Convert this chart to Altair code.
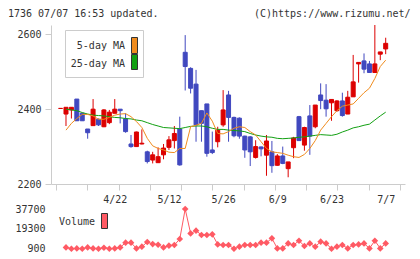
import altair as alt
import numpy as np
import pandas as pd

# Daily candles (oldest first)
OPEN = [2402, 2387, 2398, 2427, 2389, 2347, 2356, 2373, 2353, 2364,
        2389, 2400, 2374, 2307, 2300, 2307, 2286, 2264, 2257, 2278,
        2298, 2316, 2347, 2552, 2509, 2467, 2396, 2414, 2291, 2313,
        2358, 2438, 2378, 2376, 2328, 2326, 2271, 2299, 2277, 2286,
        2250, 2275, 2241, 2297, 2380, 2304, 2382, 2353, 2438, 2424,
        2417, 2396, 2422, 2387, 2433, 2521, 2529, 2521, 2498, 2547,
        2561]
HIGH = [2402, 2405, 2405, 2427, 2390, 2347, 2427, 2375, 2400, 2398,
        2427, 2400, 2389, 2331, 2340, 2346, 2289, 2286, 2298, 2307,
        2328, 2355, 2380, 2598, 2512, 2505, 2396, 2414, 2340, 2353,
        2451, 2449, 2380, 2378, 2329, 2328, 2317, 2300, 2331, 2315,
        2280, 2300, 2259, 2326, 2382, 2353, 2411, 2411, 2469, 2467,
        2426, 2424, 2444, 2449, 2545, 2525, 2549, 2529, 2625, 2553,
        2591]
LOW = [2402, 2355, 2375, 2369, 2369, 2321, 2356, 2355, 2352, 2360,
       2389, 2362, 2337, 2297, 2300, 2306, 2255, 2255, 2257, 2266,
       2291, 2295, 2249, 2450, 2442, 2313, 2313, 2273, 2280, 2298,
       2353, 2313, 2325, 2321, 2270, 2248, 2268, 2274, 2222, 2230,
       2249, 2253, 2218, 2269, 2316, 2289, 2278, 2349, 2400, 2380,
       2369, 2393, 2380, 2387, 2433, 2471, 2496, 2498, 2498, 2531,
       2547]
CLOSE = [2402, 2405, 2405, 2369, 2369, 2337, 2400, 2358, 2398, 2392,
         2400, 2396, 2340, 2300, 2339, 2309, 2260, 2278, 2273, 2296,
         2318, 2335, 2251, 2514, 2456, 2358, 2362, 2282, 2284, 2344,
         2398, 2378, 2329, 2328, 2291, 2286, 2300, 2294, 2315, 2249,
         2275, 2255, 2259, 2323, 2316, 2351, 2328, 2411, 2423, 2401,
         2426, 2422, 2383, 2432, 2473, 2525, 2507, 2498, 2521, 2553,
         2576]

# 5-day and 25-day moving averages
MA5 = [None, 2344, 2362, 2375, 2386, 2386, 2382, 2373, 2373, 2378,
       2384, 2387, 2388, 2380, 2367, 2351, 2322, 2302, 2295, 2291,
       2285, 2284, 2295, 2295, 2353, 2357, 2362, 2390, 2368, 2335,
       2334, 2340, 2349, 2353, 2351, 2340, 2331, 2313, 2295, 2286,
       2284, 2282, 2277, 2273, 2271, 2279, 2295, 2316, 2344, 2362,
       2380, 2396, 2408, 2411, 2414, 2429, 2444, 2456, 2482, 2514,
       2531]
MA25 = [None, 2400, 2398, 2396, 2391, 2387, 2384, 2383, 2382, 2380,
        2378, 2377, 2375, 2374, 2371, 2369, 2364, 2359, 2355, 2351,
        2350, 2349, 2348, 2351, 2354, 2355, 2355, 2353, 2349, 2346,
        2346, 2344, 2343, 2342, 2340, 2335, 2331, 2328, 2326, 2325,
        2322, 2321, 2322, 2323, 2325, 2326, 2328, 2330, 2332, 2331,
        2330, 2333, 2339, 2344, 2350, 2353, 2357, 2360, 2371, 2382,
        2392]

VOLUME = [None, 2100, 900, 1200, 900, 2100, 1200, 900, 1800, 900,
          1200, 2100, 6500, 6500, 1200, 2800, 7100, 5200, 4600, 2100,
          3700, 4300, 9900, 37700, 15100, 17600, 13600, 13600, 14200, 4900,
          4300, 4300, 900, 2800, 4300, 4300, 4300, 6500, 6500, 10500,
          1200, 1200, 5800, 4300, 8300, 3400, 5800, 2800, 7400, 5800,
          900, 2800, 4300, 1200, 4300, 4900, 5800, 1200, 8300, 1200,
          5800]

DATE_POS = [10, 20, 30, 40, 50, 60]
DATE_TEXT = ["4/22", "5/12", "5/26", "6/9", "6/23", "7/7"]
PRICE_TICKS = [2200, 2400, 2600]
VOLUME_TICKS = [900, 19300, 37700]

TITLE = "1736 07/07 16:53 updated."
CREDIT = "(C)https://www.rizumu.net/"

RED = "#dc0000"
BLUE = "#4048bf"
ORANGE = "#f08c1e"
GREEN = "#12a012"
PINK = "#ff5a64"
GRID = "#cccccc"
TEXT = "#333333"
FONT = "DejaVu Sans Mono"

W, H = 354, 159

df = pd.DataFrame({
    "i": np.arange(len(CLOSE)),
    "open": OPEN, "high": HIGH, "low": LOW, "close": CLOSE,
    "ma5": MA5, "ma25": MA25, "vol": VOLUME,
})
df["dir"] = np.where(df["close"] >= df["open"], "up", "down")

X_LO, X_HI = -0.843, 62.64
x_ticks = [X_LO + k * (X_HI - X_LO) / 11 for k in range(12)]


def xs():
    return alt.Scale(domain=[X_LO, X_HI], nice=False, zero=False)


def ps():
    return alt.Scale(domain=[2200, 2625], nice=False, zero=False)


def vs():
    return alt.Scale(domain=[900, 37700], range=[223.7, 184], nice=False, zero=False)


dir_scale = alt.Scale(domain=["up", "down"], range=[RED, BLUE])

label_expr = "[" + ",".join(f"'{t}'" for t in DATE_TEXT) + "][indexof([" + \
    ",".join(str(p) for p in DATE_POS) + "], datum.value)]"

base = alt.Chart(df)

wicks = base.mark_rule(strokeWidth=1).encode(
    x=alt.X("i:Q", scale=xs(), axis=alt.Axis(
        values=x_ticks, labels=False, tickSize=6, tickColor=GRID,
        domainColor=GRID, grid=False, title=None, orient="bottom")),
    y=alt.Y("low:Q", scale=ps(), axis=alt.Axis(
        values=PRICE_TICKS, format="d", tickSize=6, tickColor=GRID,
        domainColor=GRID, grid=False, title=None, labelPadding=4,
        orient="left")),
    y2="high:Q",
    color=alt.Color("dir:N", scale=dir_scale, legend=None),
)

bodies = base.mark_bar(size=4, strokeWidth=1, orient="vertical").encode(
    x=alt.X("i:Q", scale=xs(), axis=alt.Axis(
        values=DATE_POS, labelExpr=label_expr, ticks=False, tickSize=0,
        domain=False, grid=False, title=None, labelPadding=10,
        orient="bottom")),
    y=alt.Y("open:Q", scale=ps(), axis=None),
    y2="close:Q",
    color=alt.Color("dir:N", scale=dir_scale, legend=None),
    stroke=alt.Stroke("dir:N", scale=dir_scale, legend=None),
)

ma25 = base.mark_line(color=GREEN, strokeWidth=1).encode(
    x=alt.X("i:Q", scale=xs(), axis=None),
    y=alt.Y("ma25:Q", scale=ps(), axis=None),
)
ma5 = base.mark_line(color=ORANGE, strokeWidth=1).encode(
    x=alt.X("i:Q", scale=xs(), axis=None),
    y=alt.Y("ma5:Q", scale=ps(), axis=None),
)

vol_line = base.mark_line(color=PINK, strokeWidth=1).encode(
    x=alt.X("i:Q", scale=xs(), axis=None),
    y=alt.Y("vol:Q", scale=vs(), axis=alt.Axis(
        values=VOLUME_TICKS, format="d", domain=False, ticks=False,
        tickSize=0, grid=False, title=None, labelPadding=6, orient="left")),
)
vol_pts = base.mark_point(shape="diamond", filled=True, size=44, opacity=1,
                          color=PINK).encode(
    x=alt.X("i:Q", scale=xs(), axis=None),
    y=alt.Y("vol:Q", scale=vs(), axis=None),
)

one = alt.Chart(pd.DataFrame({"k": [0]}))


def box(x1, x2, y1, y2, fill, stroke):
    return one.mark_rect(fill=fill, stroke=stroke, strokeWidth=1).encode(
        x=alt.value(x1), x2=alt.value(x2), y=alt.value(y1), y2=alt.value(y2))


def label(txt, x, y, align="left", baseline="middle"):
    return one.mark_text(text=txt, align=align, baseline=baseline, font=FONT,
                         fontSize=10, color=TEXT).encode(
        x=alt.value(x), y=alt.value(y))


layers = [
    wicks, bodies, ma25, ma5,
    box(14.5, 92.5, 5.5, 52.5, "white", GRID),
    label("5-day MA", 74, 21, align="right"),
    box(80.5, 86.5, 12.5, 28.5, ORANGE, "#333333"),
    label("25-day MA", 74, 38.5, align="right"),
    box(80.5, 86.5, 29.5, 44.5, GREEN, "#333333"),
    vol_line, vol_pts,
    label("Volume", 8, 196.5),
    box(50.5, 56.5, 188.5, 203.5, PINK, "#333333"),
    label(TITLE, -43, -8.5, baseline="alphabetic"),
    label(CREDIT, 359.5, -8.5, align="right", baseline="alphabetic"),
]

chart = alt.layer(*layers).resolve_scale(y="independent").resolve_axis(
    x="independent", y="independent").properties(
    width=W, height=H,
    padding={"left": 51, "top": 25, "right": 15, "bottom": 75},
    autosize=alt.AutoSizeParams(type="none"),
).configure_view(stroke=None).configure_axis(
    labelFont=FONT, labelFontSize=10, labelColor=TEXT,
)

chart.save("out.html", embed_options={"renderer": "svg", "actions": False})
